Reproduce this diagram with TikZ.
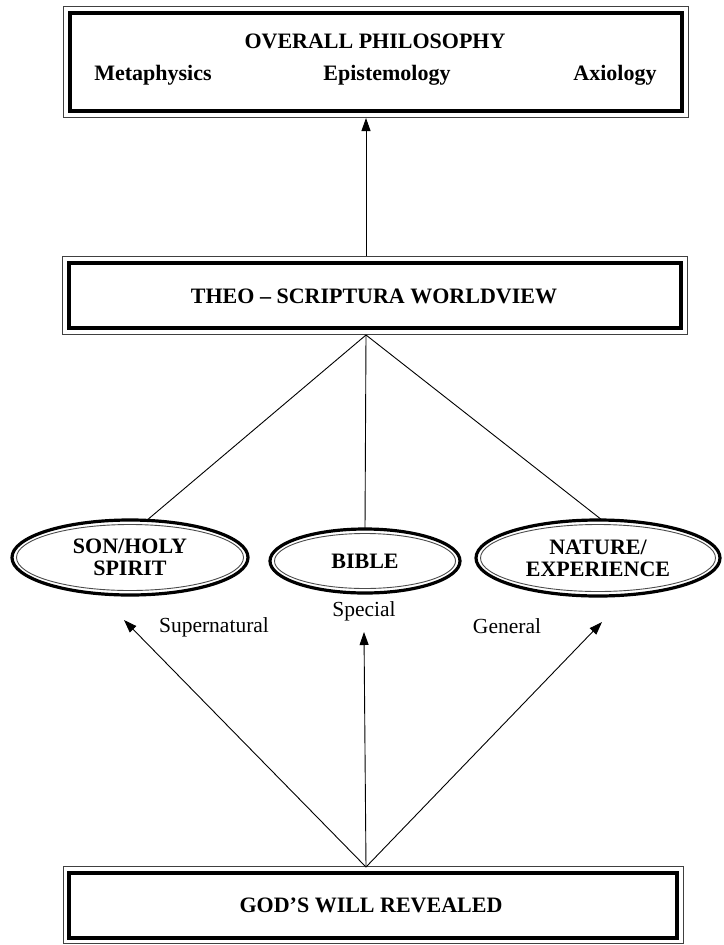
\documentclass[tikz,border=0pt]{standalone}
\usepackage{fontspec}
\setmainfont{Liberation Serif}
\usetikzlibrary{arrows.meta,shapes.geometric}
\begin{document}
\begin{tikzpicture}[x=1pt,y=-1pt,
  every node/.style={inner sep=0pt, outer sep=0pt},
  txt/.style={font=\fontsize{22}{24}\selectfont\bfseries, anchor=base},
  lbl/.style={font=\fontsize{21.5}{24}\selectfont, anchor=base},
  bx/.style={draw=black, line width=4pt, rectangle},
  bxline/.style={draw=black!75, line width=0.8pt},
  ell/.style={draw=black, line width=3.2pt, ellipse, align=center, font=\fontsize{22}{22}\selectfont\bfseries},
  ellline/.style={draw=black!70, line width=0.9pt},
  conn/.style={draw=black, line width=0.9pt},
  arr/.style={conn, -{Triangle[length=13pt,width=9pt]}},
]
\useasboundingbox (0,0) rectangle (723,945);
\fill[white] (0,0) rectangle (723,945);

% boxes
\node[bx, minimum width=612pt, minimum height=98pt] (top) at (376,62) {};
\draw[bxline] ([shift={(-6.5,-6.5)}]top.north west) rectangle ([shift={(6.5,6.5)}]top.south east);
\node[bx, minimum width=612pt, minimum height=65pt] (mid) at (375,295.5) {};
\draw[bxline] ([shift={(-6.5,-6.5)}]mid.north west) rectangle ([shift={(6.5,6.5)}]mid.south east);
\node[bx, minimum width=608pt, minimum height=65pt] (bot) at (373,905) {};
\draw[bxline] ([shift={(-6,-6)}]bot.north west) rectangle ([shift={(6,6)}]bot.south east);

% box texts
\node[txt] (ttl) at (375,48) {OVERALL PHILOSOPHY};
\node[txt] (meta) at (153,80) {Metaphysics};
\node[txt] (epis) at (387,80) {Epistemology};
\node[txt] (axio) at (615,80) {Axiology};
\node[txt] (theo) at (374,303) {THEO – SCRIPTURA WORLDVIEW};
\node[txt] (gods) at (371,912) {GOD’S WILL REVEALED};

% ellipses
\node[ell, minimum width=236pt, minimum height=75pt] (son) at (130,557.5) {SON/HOLY\\SPIRIT};
\draw[ellline] (son.center) ellipse [x radius=113.5pt, y radius=33pt];
\node[ell, minimum width=190pt, minimum height=64pt] (bib) at (365,561) {BIBLE};
\draw[ellline] (bib.center) ellipse [x radius=90.5pt, y radius=27.5pt];
\node[ell, minimum width=244pt, minimum height=76pt] (nat) at (598,558) {NATURE/\\EXPERIENCE};
\draw[ellline] (nat.center) ellipse [x radius=117.5pt, y radius=33.5pt];

% connectors
\coordinate (up0) at (366,256);
\coordinate (up1) at (366,118);
\coordinate (hub) at (366,335);
\coordinate (root) at (366,867);
\coordinate (tipS) at (124,620);
\coordinate (tipB) at (364,632);
\coordinate (tipN) at (602,622);

\draw[arr] (up0) -- (up1);
\draw[conn] (hub) -- ([xshift=16pt,yshift=-1pt]son.north);
\draw[conn] (hub) -- (bib.north);
\draw[conn] (hub) -- ([xshift=4pt]nat.north);
\draw[arr] (root) -- (tipS);
\draw[arr] (root) -- (tipB);
\draw[arr] (root) -- (tipN);

% labels
\node[lbl] (sup) at (214,632) {Supernatural};
\node[lbl] (spc) at (364,616) {Special};
\node[lbl] (gen) at (507,633) {General};
\end{tikzpicture}
\end{document}
